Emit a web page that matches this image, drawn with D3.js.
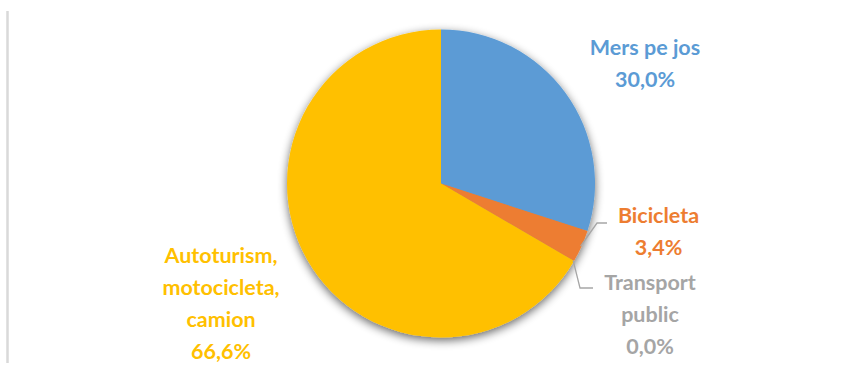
<!DOCTYPE html>
<html>
<head>
<meta charset="utf-8">
<script src="https://cdn.jsdelivr.net/npm/d3@7"></script>
<style>
  html, body { margin: 0; padding: 0; background: #ffffff; }
  svg { display: block; }
  text { font-family: Lato, "Open Sans", sans-serif; font-weight: 700; }
</style>
</head>
<body>
<svg id="chart" width="859" height="365"></svg>
<script>
// Modal split of trips (share of journeys, %)
const categories = ["Mers pe jos", "Bicicleta", "Transport public", "Autoturism, motocicleta, camion"];
const values = [30.0, 3.4, 0.0, 66.6];
const labelLines = [
  ["Mers pe jos"],
  ["Bicicleta"],
  ["Transport", "public"],
  ["Autoturism,", "motocicleta,", "camion"]
];
const colors = ["#5B9BD5", "#ED7D31", "#A5A5A5", "#FFC000"];

const W = 859, H = 365;
const cx = 441, cy = 183.5, radius = 154;
const lineH = 32;

const svg = d3.select("#chart");

// soft drop shadow under the pie
const defs = svg.append("defs");
const f = defs.append("filter").attr("id", "shadow")
  .attr("x", "-20%").attr("y", "-20%").attr("width", "140%").attr("height", "140%");
f.append("feGaussianBlur").attr("in", "SourceAlpha").attr("stdDeviation", 5).attr("result", "b");
f.append("feOffset").attr("in", "b").attr("dx", 0).attr("dy", 3).attr("result", "o");
f.append("feComponentTransfer").attr("in", "o").attr("result", "s")
  .append("feFuncA").attr("type", "linear").attr("slope", 0.6);
const m = f.append("feMerge");
m.append("feMergeNode").attr("in", "s");
m.append("feMergeNode").attr("in", "SourceGraphic");

// left frame edge
svg.append("line")
  .attr("x1", 7.5).attr("x2", 7.5).attr("y1", 11).attr("y2", 363)
  .attr("stroke", "#d9d9d9").attr("stroke-width", 2.5);

const pie = d3.pie().sort(null).value(d => d)
  .startAngle(0).endAngle(2 * Math.PI);
const arcs = pie(values);
const arc = d3.arc().innerRadius(0).outerRadius(radius);

const g = svg.append("g").attr("transform", `translate(${cx},${cy})`);
g.append("g").attr("filter", "url(#shadow)")
  .selectAll("path").data(arcs).join("path")
  .attr("d", arc)
  .attr("fill", (d, i) => colors[i]);

// label anchor placement (relative to pie centre): centre x, first baseline
const labelPos = [
  { dx: 204, dy: -128.5 },
  { dx: 217.5, dy: 39.5 },
  { dx: 209, dy: 106.5 },
  { dx: -220, dy: 79.5 }
];
const fmt = v => d3.format(".1f")(v).replace(".", ",") + "%";

// leader lines for the two small slices
const edgePoint = (d, r) => {
  const a = (d.startAngle + d.endAngle) / 2;
  return [r * Math.sin(a), -r * Math.cos(a)];
};
const leaders = [
  { i: 1, elbow: [156, 39.5], end: [166, 39.5] },
  { i: 2, elbow: [139, 104.5], end: [152, 104.5] }
];
leaders.forEach(l => {
  const p = edgePoint(arcs[l.i], radius - 1);
  g.append("polyline")
    .attr("points", [p, l.elbow, l.end].map(q => q.join(",")).join(" "))
    .attr("fill", "none").attr("stroke", "#A6A6A6").attr("stroke-width", 1.3);
});

arcs.forEach((d, i) => {
  const pos = labelPos[i];
  const lines = labelLines[i].concat([fmt(values[i])]);
  const t = g.append("text")
    .attr("text-anchor", "middle")
    .attr("fill", colors[i])
    .attr("font-size", 21.5);
  lines.forEach((s, k) => {
    t.append("tspan").attr("x", pos.dx).attr("y", pos.dy + k * lineH).text(s);
  });
});
</script>
</body>
</html>
